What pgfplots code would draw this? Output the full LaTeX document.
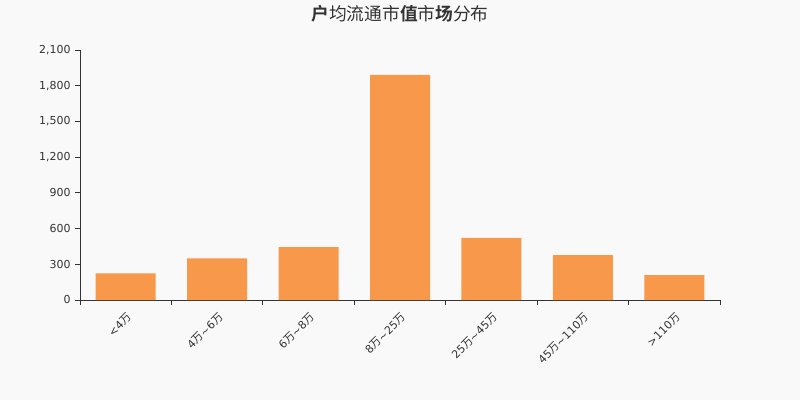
\documentclass[border=0pt]{standalone}
\usepackage{fontspec}
\usepackage{pgfplots}
\pgfplotsset{compat=1.18}
\setmainfont{DejaVu Sans}
\newfontfamily\cjk{Noto Sans CJK SC}
\newfontfamily\cjkb{Noto Sans CJK SC Bold}
\definecolor{barc}{HTML}{F7984A}
\definecolor{txt}{HTML}{333333}
\definecolor{bg}{HTML}{F9F9F9}
\newcommand{\w}{{\cjk 万}}
\begin{document}
\begin{tikzpicture}[x=1bp,y=1bp]
\fill[bg] (0,0) rectangle (800,400);
\useasboundingbox (0,0) rectangle (800,400);
\node[txt,font=\fontsize{17.8}{20}\selectfont] at (400,386)
  {{\cjkb 户}{\cjk 均流通市}{\cjkb 值}{\cjk 市}{\cjkb 场}{\cjk 分布}};
\begin{axis}[
  at={(80bp,100bp)}, anchor=south west,
  scale only axis, width=640bp, height=250bp,
  ybar, bar width=60bp,
  xmin=-0.5, xmax=6.5,
  ymin=0, ymax=2100,
  ytick={0,300,...,2100},
  xtick={0,...,6},
  xticklabels={<4\w, 4\w\textasciitilde6\w, 6\w\textasciitilde8\w, 8\w\textasciitilde25\w,
    25\w\textasciitilde45\w, 45\w\textasciitilde110\w, >110\w},
  minor xtick={-0.5,0.5,...,6.5},
  major x tick style={draw=none},
  tick align=outside,
  major tick length=5bp, minor tick length=5bp,
  axis lines*=left,
  axis line style={txt, line width=0.8bp},
  tick style={txt, line width=0.8bp},
  every tick label/.append style={txt, font=\fontsize{11}{13}\selectfont},
  yticklabel style={xshift=-1bp},
  xticklabel style={rotate=45, anchor=north east, xshift=-1bp, yshift=-2bp},
  /pgf/number format/assume math mode=true,
  /pgf/number format/1000 sep={,},
  scaled y ticks=false,
  clip=false,
]
\addplot[fill=barc, draw=none] coordinates {
  (0,224) (1,350) (2,445) (3,1890) (4,521) (5,378) (6,210)
};
\end{axis}
\end{tikzpicture}
\end{document}
